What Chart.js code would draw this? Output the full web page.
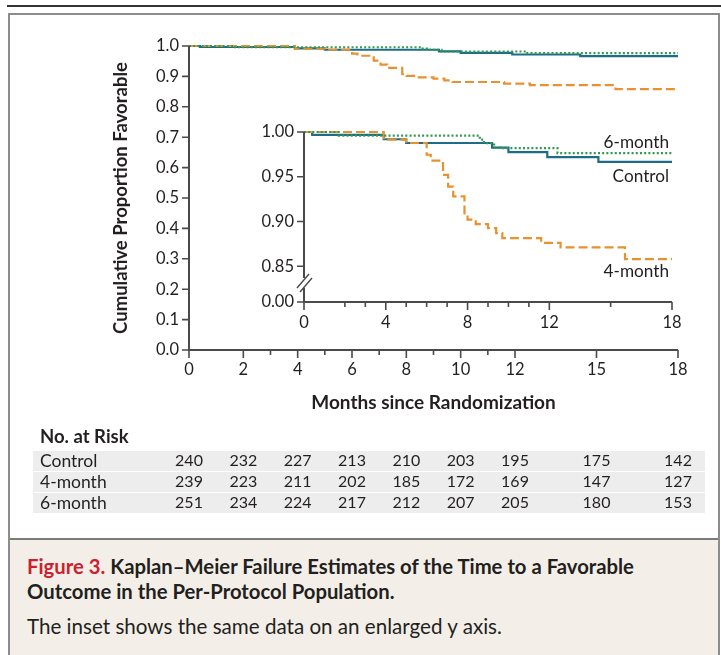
<!DOCTYPE html>
<html>
<head>
<meta charset="utf-8">
<script src="https://cdn.jsdelivr.net/npm/chart.js@4/dist/chart.umd.min.js"></script>
<style>
html,body{margin:0;padding:0;background:#fff;width:721px;height:655px;overflow:hidden;font-family:Lato,sans-serif;color:#231f20;}
#topRule{position:absolute;left:7px;top:5px;width:714px;height:2px;background:#333;}
#frame{position:absolute;left:8px;top:13px;width:708px;height:700px;border:2px solid #8c8c8c;background:#fff;}
#capBox{position:absolute;left:10px;top:538px;width:708px;height:140px;background:#f3efe8;border-top:2px solid #7a7a7a;}
#mainWrap{position:absolute;left:0;top:0;width:721px;height:537px;}
#insetWrap{position:absolute;left:240px;top:112px;width:460px;height:236px;}
.cap{position:absolute;left:27px;white-space:nowrap;font-size:20.3px;line-height:24px;}
.b{font-weight:bold;}
.red{color:#cc1f2f;}
</style>
</head>
<body>
<div id="topRule"></div>
<div id="frame"></div>
<div id="capBox"></div>
<div id="mainWrap"><canvas id="mainChart" width="721" height="537"></canvas></div>
<div id="insetWrap"><canvas id="insetChart" width="460" height="236"></canvas></div>
<div class="cap b" style="top:554px;"><span class="red">Figure 3.</span> Kaplan–Meier Failure Estimates of the Time to a Favorable</div>
<div class="cap b" style="top:579px;">Outcome in the Per-Protocol Population.</div>
<div class="cap" style="top:614px;font-size:20.6px;">The inset shows the same data on an enlarged y axis.</div>
<script>
// ---- data (months since randomization, cumulative proportion favorable) ----
const controlTimes = [0, 0.4, 3.9, 5.0, 9.2, 10.0, 11.9, 14.4, 18];
const controlProb  = [1.0, 0.9967, 0.9919, 0.9877, 0.9826, 0.9775, 0.9720, 0.9667, 0.9667];
const fourTimes = [0, 3.9, 5.0, 6.0, 6.2, 6.8, 7.05, 7.3, 7.85, 8.0, 8.4, 9.0, 9.4, 9.7, 11.6, 12.55, 15.7, 18];
const fourProb  = [1.0, 0.9914, 0.9877, 0.9746, 0.968, 0.952, 0.939, 0.928, 0.9075, 0.902, 0.897, 0.8926, 0.887, 0.8815, 0.876, 0.871, 0.858, 0.858];
const sixTimes = [0, 1.7, 8.6, 8.8, 9.3, 9.6, 12.4, 18];
const sixProb  = [1.0, 0.9959, 0.9915, 0.9874, 0.9826, 0.9819, 0.9765, 0.9765];

const seriesNames = ['Control', '4-month', '6-month'];
const riskMonths  = [0, 2, 4, 6, 8, 10, 12, 15, 18];
const riskControl = [240, 232, 227, 213, 210, 203, 195, 175, 142];
const riskFour    = [239, 223, 211, 202, 185, 172, 169, 147, 127];
const riskSix     = [251, 234, 224, 217, 212, 207, 205, 180, 153];

const mainXTicks  = [0, 2, 3, 4, 5, 6, 7, 8, 9, 10, 11, 12, 15, 18];
const mainXLabels = [0, 2, 4, 6, 8, 10, 12, 15, 18];
const mainYTicks  = [0, 0.1, 0.2, 0.3, 0.4, 0.5, 0.6, 0.7, 0.8, 0.9, 1.0];
const insetXTicks  = [0, 2, 3, 4, 5, 6, 7, 8, 9, 10, 11, 12, 15, 18];
const insetXLabels = [0, 4, 8, 12, 18];
const insetYTicks  = [0.81, 0.85, 0.90, 0.95, 1.00];
const insetYLabels = ['0.00', '0.85', '0.90', '0.95', '1.00'];

// ---- styles ----
const TXT = '#231f20';
const AX = '#4a4a4a';
const C_CONTROL = '#1f6c88';
const C_FOUR = '#e8912e';
const C_SIX = '#2f9a4f';
const FONT = 'Lato';

function pts(t, p) { return t.map((x, i) => ({x: x, y: p[i]})); }

function datasets(lw) {
  return [
    {label: seriesNames[2], data: pts(sixTimes, sixProb), borderColor: C_SIX, borderWidth: lw, borderDash: [2, 2.2], stepped: true, pointRadius: 0, fill: false, clip: false},
    {label: seriesNames[1], data: pts(fourTimes, fourProb), borderColor: C_FOUR, borderWidth: lw, borderDash: [9, 4], stepped: true, pointRadius: 0, fill: false, clip: false},
    {label: seriesNames[0], data: pts(controlTimes, controlProb), borderColor: C_CONTROL, borderWidth: lw, stepped: true, pointRadius: 0, fill: false, clip: false}
  ];
}

function axisPlugin(xTicks, xLabels, yTicks, opts) {
  return {
    id: 'axes',
    afterDatasetsDraw(chart) {
      const ctx = chart.ctx, xs = chart.scales.x, ys = chart.scales.y, a = chart.chartArea;
      ctx.save();
      ctx.strokeStyle = AX; ctx.lineWidth = 2; ctx.setLineDash([]);
      ctx.beginPath();
      if (opts.breakY) {
        ctx.moveTo(a.left, a.top); ctx.lineTo(a.left, opts.breakY - 5);
        ctx.moveTo(a.left, opts.breakY + 5); ctx.lineTo(a.left, a.bottom);
      } else {
        ctx.moveTo(a.left, a.top); ctx.lineTo(a.left, a.bottom);
      }
      ctx.moveTo(a.left - 1, a.bottom); ctx.lineTo(a.right, a.bottom);
      ctx.stroke();
      ctx.lineWidth = 1.6;
      ctx.beginPath();
      yTicks.forEach(v => { const y = ys.getPixelForValue(v); ctx.moveTo(a.left, y); ctx.lineTo(a.left - 7, y); });
      xTicks.forEach(v => { const x = xs.getPixelForValue(v); const len = xLabels.includes(v) ? 8 : 5; ctx.moveTo(x, a.bottom); ctx.lineTo(x, a.bottom + len); });
      ctx.stroke();
      if (opts.breakY) {
        const b = opts.breakY;
        ctx.lineWidth = 1.4;
        ctx.beginPath();
        ctx.moveTo(a.left - 7, b + 5); ctx.lineTo(a.left + 5, b - 9);
        ctx.moveTo(a.left - 4, b + 9); ctx.lineTo(a.left + 8, b - 5);
        ctx.stroke();
      }
      ctx.restore();
    }
  };
}

const riskPlugin = {
  id: 'risk',
  afterDraw(chart) {
    const ctx = chart.ctx, xs = chart.scales.x;
    ctx.save();
    ctx.fillStyle = '#ededed';
    const rowsY = [461, 482, 503];
    rowsY.forEach(y => ctx.fillRect(33, y - 10, 672, 20));
    ctx.fillStyle = TXT;
    ctx.textBaseline = 'middle';
    ctx.textAlign = 'left';
    ctx.font = 'bold 18.5px ' + FONT;
    ctx.fillText('No. at Risk', 40, 437);
    const rows = [riskControl, riskFour, riskSix];
    rows.forEach((r, i) => {
      ctx.textAlign = 'left';
      ctx.font = '17.5px ' + FONT;
      ctx.fillText(seriesNames[i], 40, rowsY[i]);
      ctx.textAlign = 'center';
      ctx.font = '16px ' + FONT;
      r.forEach((n, j) => ctx.fillText(String(n), xs.getPixelForValue(riskMonths[j]), rowsY[i]));
    });
    ctx.restore();
  }
};

const insetLabelPlugin = {
  id: 'insetLabels',
  afterDraw(chart) {
    const ctx = chart.ctx, a = chart.chartArea;
    ctx.save();
    ctx.fillStyle = TXT; ctx.textAlign = 'right'; ctx.textBaseline = 'middle';
    ctx.font = '17.2px ' + FONT;
    ctx.fillText(seriesNames[2], a.right - 3, 142 - 112);
    ctx.fillText(seriesNames[0], a.right - 3, 176 - 112);
    ctx.fillText(seriesNames[1], a.right - 3, 271 - 112);
    ctx.restore();
  }
};

Chart.defaults.font.family = FONT;
Chart.defaults.color = TXT;

// ---- main chart ----
new Chart(document.getElementById('mainChart'), {
  type: 'line',
  data: {datasets: datasets(2.2)},
  options: {
    responsive: false, animation: false, events: [],
    layout: {padding: {left: 0, top: 46, right: 43, bottom: 0}},
    plugins: {legend: {display: false}, tooltip: {enabled: false}},
    scales: {
      x: {
        type: 'linear', min: 0, max: 18,
        afterBuildTicks: s => { s.ticks = mainXTicks.map(v => ({value: v})); },
        afterFit: s => { s.height = 187; },
        grid: {display: false, drawTicks: false}, border: {display: false},
        ticks: {autoSkip: false, maxRotation: 0, padding: 10, font: {size: 16.5},
          callback: v => mainXLabels.includes(v) ? String(v) : ''},
        title: {display: true, text: 'Months since Randomization', font: {size: 19, weight: 'bold'}, padding: {top: 0, bottom: 122.5}}
      },
      y: {
        type: 'linear', min: 0, max: 1,
        afterBuildTicks: s => { s.ticks = mainYTicks.map(v => ({value: v})); },
        afterFit: s => { s.width = 189; },
        grid: {display: false, drawTicks: false}, border: {display: false},
        ticks: {autoSkip: false, padding: 10, font: {size: 16.5}, callback: v => v.toFixed(1)},
        title: {display: true, text: 'Cumulative Proportion Favorable', font: {size: 18.5, weight: 'bold'}, padding: {top: 110, bottom: 0}}
      }
    }
  },
  plugins: [axisPlugin(mainXTicks, mainXLabels, mainYTicks, {}), riskPlugin]
});

// ---- inset chart ----
new Chart(document.getElementById('insetChart'), {
  type: 'line',
  data: {datasets: datasets(2.2)},
  options: {
    responsive: false, animation: false, events: [],
    layout: {padding: {left: 0, top: 20, right: 28, bottom: 0}},
    plugins: {legend: {display: false}, tooltip: {enabled: false}},
    scales: {
      x: {
        type: 'linear', min: 0, max: 18,
        afterBuildTicks: s => { s.ticks = insetXTicks.map(v => ({value: v})); },
        afterFit: s => { s.height = 46; },
        grid: {display: false, drawTicks: false}, border: {display: false},
        ticks: {autoSkip: false, maxRotation: 0, padding: 11, font: {size: 16.5},
          callback: v => insetXLabels.includes(v) ? String(v) : ''}
      },
      y: {
        type: 'linear', min: insetYTicks[0], max: 1,
        afterBuildTicks: s => { s.ticks = insetYTicks.map(v => ({value: v})); },
        afterFit: s => { s.width = 64; },
        grid: {display: false, drawTicks: false}, border: {display: false},
        ticks: {autoSkip: false, padding: 10, font: {size: 16.5},
          callback: (v, i) => insetYLabels[insetYTicks.indexOf(v)]}
      }
    }
  },
  plugins: [axisPlugin(insetXTicks, insetXLabels, insetYTicks, {breakY: 283 - 112}), insetLabelPlugin]
});
</script>
</body>
</html>
